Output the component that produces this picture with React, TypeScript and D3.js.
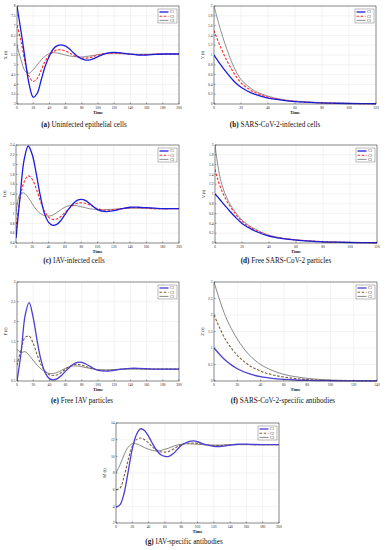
import React from "react";
import * as d3 from "d3";

// time grids
const tLong = [0, 5, 10, 15, 20, 25, 30, 35, 40, 45, 50, 55, 60, 65, 70, 75, 80, 85, 90, 95, 100, 110, 120, 130, 140, 150, 160, 170, 180, 190, 200];
const tB = [0, 5, 10, 15, 20, 25, 30, 40, 50, 60, 70, 80, 90, 100, 110, 120];
const tD = [0, 2, 5, 10, 15, 20, 25, 30, 40, 50, 60, 70, 80, 90, 100, 110, 120];
const tF = [0, 10, 20, 30, 40, 50, 60, 70, 80, 90, 100, 110, 120, 130, 140];

const seriesNames = ["C1", "C2", "C3"];

// (a) X(t)
const aC1 = [8, 6.7, 5.3, 4.0, 3.35, 3.55, 4.25, 4.95, 5.45, 5.82, 5.98, 6.02, 5.95, 5.8, 5.6, 5.42, 5.3, 5.24, 5.25, 5.32, 5.42, 5.58, 5.63, 5.6, 5.54, 5.5, 5.5, 5.53, 5.55, 5.55, 5.55];
const aC2 = [7, 6.2, 5.1, 4.4, 4.15, 4.3, 4.75, 5.2, 5.5, 5.68, 5.76, 5.76, 5.7, 5.6, 5.48, 5.4, 5.35, 5.34, 5.37, 5.43, 5.5, 5.58, 5.6, 5.58, 5.54, 5.52, 5.52, 5.54, 5.55, 5.55, 5.55];
const aC3 = [6.0, 5.25, 4.68, 4.57, 4.75, 5.0, 5.25, 5.45, 5.58, 5.62, 5.6, 5.55, 5.5, 5.45, 5.42, 5.4, 5.4, 5.42, 5.45, 5.48, 5.52, 5.56, 5.57, 5.56, 5.55, 5.54, 5.54, 5.55, 5.55, 5.55, 5.55];

// (b) Y(t)
const bC1 = [1, 0.8, 0.62, 0.46, 0.34, 0.26, 0.2, 0.12, 0.08, 0.05, 0.035, 0.022, 0.015, 0.01, 0.007, 0.005];
const bC2 = [1.5, 1.15, 0.86, 0.62, 0.43, 0.32, 0.24, 0.14, 0.085, 0.055, 0.037, 0.024, 0.016, 0.011, 0.007, 0.005];
const bC3 = [2.0, 1.5, 1.08, 0.74, 0.5, 0.37, 0.27, 0.16, 0.095, 0.06, 0.04, 0.026, 0.017, 0.011, 0.007, 0.005];

// (c) I(t)
const cC1 = [0.5, 1.35, 2.1, 2.38, 2.2, 1.8, 1.35, 1.0, 0.82, 0.76, 0.78, 0.86, 0.98, 1.1, 1.2, 1.27, 1.29, 1.27, 1.21, 1.14, 1.08, 1.04, 1.06, 1.1, 1.13, 1.13, 1.12, 1.11, 1.1, 1.1, 1.1];
const cC2 = [0.7, 1.3, 1.65, 1.77, 1.7, 1.5, 1.25, 1.05, 0.93, 0.88, 0.89, 0.94, 1.02, 1.1, 1.17, 1.21, 1.22, 1.21, 1.18, 1.14, 1.1, 1.07, 1.08, 1.1, 1.12, 1.12, 1.11, 1.1, 1.1, 1.1, 1.1];
const cC3 = [1.0, 1.4, 1.42, 1.33, 1.2, 1.08, 1.0, 0.96, 0.95, 0.97, 1.02, 1.08, 1.13, 1.16, 1.17, 1.16, 1.14, 1.12, 1.1, 1.09, 1.08, 1.08, 1.09, 1.1, 1.11, 1.11, 1.11, 1.1, 1.1, 1.1, 1.1];

// (d) V(t)
const dC1 = [1, 0.94, 0.84, 0.68, 0.53, 0.4, 0.31, 0.24, 0.14, 0.09, 0.06, 0.04, 0.025, 0.016, 0.01, 0.007, 0.005];
const dC2 = [1.5, 1.3, 1.07, 0.8, 0.6, 0.44, 0.34, 0.26, 0.15, 0.095, 0.062, 0.042, 0.027, 0.017, 0.011, 0.007, 0.005];
const dC3 = [2, 1.6, 1.2, 0.85, 0.63, 0.47, 0.36, 0.28, 0.16, 0.1, 0.065, 0.043, 0.028, 0.018, 0.011, 0.007, 0.005];

// (e) P(t)
const eC1 = [0.5, 1.2, 2.15, 2.48, 2.1, 1.5, 1.0, 0.7, 0.56, 0.53, 0.56, 0.64, 0.75, 0.85, 0.93, 0.97, 0.97, 0.93, 0.87, 0.81, 0.77, 0.75, 0.77, 0.8, 0.82, 0.82, 0.81, 0.8, 0.8, 0.8, 0.8];
const eC2 = [0.9, 1.3, 1.6, 1.63, 1.45, 1.15, 0.9, 0.74, 0.66, 0.64, 0.66, 0.72, 0.8, 0.87, 0.91, 0.92, 0.9, 0.87, 0.83, 0.8, 0.78, 0.77, 0.78, 0.8, 0.81, 0.81, 0.8, 0.8, 0.8, 0.8, 0.8];
const eC3 = [1.3, 1.22, 1.24, 1.15, 1.02, 0.9, 0.8, 0.73, 0.69, 0.69, 0.72, 0.77, 0.82, 0.86, 0.88, 0.88, 0.86, 0.84, 0.82, 0.8, 0.79, 0.78, 0.79, 0.8, 0.8, 0.8, 0.8, 0.8, 0.8, 0.8, 0.8];

// (f) Z(t)
const fC1 = [1, 0.62, 0.37, 0.22, 0.13, 0.08, 0.05, 0.03, 0.02, 0.012, 0.008, 0.005, 0.003, 0.002, 0.001];
const fC2 = [2, 1.25, 0.78, 0.48, 0.3, 0.19, 0.12, 0.075, 0.045, 0.028, 0.018, 0.011, 0.007, 0.004, 0.003];
const fC3 = [3, 1.95, 1.27, 0.8, 0.5, 0.32, 0.2, 0.13, 0.08, 0.05, 0.03, 0.02, 0.012, 0.008, 0.005];

// (g) M(t)
const gC1 = [3.9, 4.2, 5.6, 8.2, 10.9, 12.6, 13.3, 13.1, 12.4, 11.5, 10.7, 10.2, 10.0, 10.0, 10.3, 10.8, 11.3, 11.6, 11.8, 11.85, 11.75, 11.4, 11.2, 11.2, 11.35, 11.45, 11.45, 11.42, 11.4, 11.4, 11.4];
const gC2 = [6.0, 6.2, 7.6, 9.6, 11.2, 12.0, 12.2, 12.0, 11.6, 11.1, 10.75, 10.55, 10.5, 10.6, 10.85, 11.15, 11.4, 11.55, 11.6, 11.6, 11.55, 11.4, 11.3, 11.3, 11.38, 11.42, 11.42, 11.4, 11.4, 11.4, 11.4];
const gC3 = [8.0, 9.0, 10.2, 11.1, 11.5, 11.5, 11.3, 11.05, 10.85, 10.7, 10.65, 10.7, 10.85, 11.0, 11.2, 11.35, 11.45, 11.5, 11.5, 11.48, 11.45, 11.38, 11.35, 11.36, 11.4, 11.4, 11.4, 11.4, 11.4, 11.4, 11.4];

const colorsTop = ["#1c1ce0", "#ff2a2a", "#5e5e5e"];
const colorsBottom = ["#4b3ed2", "#80603c", "#555555"];

const panels = [
  { id: "a", title: "Uninfected epithelial cells", ylab: "X (t)", t: tLong, ys: [aC1, aC2, aC3], xd: [0, 200], xs: 20, yd: [3, 8], ystep: 0.5, box: [17, 179, 6, 104], cap: [84, 127], colors: colorsTop },
  { id: "b", title: "SARS-CoV-2-infected cells", ylab: "Y (t)", t: tB, ys: [bC1, bC2, bC3], xd: [0, 120], xs: 20, yd: [0, 2], ystep: 0.2, box: [214, 376, 6, 104], cap: [275, 127], colors: colorsTop },
  { id: "c", title: "IAV-infected cells", ylab: "I (t)", t: tLong, ys: [cC1, cC2, cC3], xd: [0, 200], xs: 20, yd: [0.4, 2.4], ystep: 0.2, box: [16, 179, 145, 243], cap: [74, 263], colors: colorsTop },
  { id: "d", title: "Free SARS-CoV-2 particles", ylab: "V (t)", t: tD, ys: [dC1, dC2, dC3], xd: [0, 120], xs: 20, yd: [0, 2], ystep: 0.2, box: [215, 377, 145, 243], cap: [286, 263], colors: colorsTop },
  { id: "e", title: "Free IAV particles", ylab: "P (t)", t: tLong, ys: [eC1, eC2, eC3], xd: [0, 200], xs: 20, yd: [0.5, 3], ystep: 0.5, box: [17, 179, 282, 381], cap: [82, 403], colors: colorsBottom },
  { id: "f", title: "SARS-CoV-2-specific antibodies", ylab: "Z (t)", t: tF, ys: [fC1, fC2, fC3], xd: [0, 140], xs: 20, yd: [0, 3], ystep: 0.5, box: [214, 377, 282, 381], cap: [283, 403], colors: colorsBottom },
  { id: "g", title: "IAV-specific antibodies", ylab: "M (t)", t: tLong, ys: [gC1, gC2, gC3], xd: [0, 200], xs: 20, yd: [2, 14], ystep: 2, box: [116, 279, 423, 523], cap: [184, 544], colors: colorsBottom },
];

const fmt = (v) => String(+v.toFixed(2));

function Panel({ p }) {
  const [l, r, top, bot] = p.box;
  const x = d3.scaleLinear().domain(p.xd).range([l, r]);
  const y = d3.scaleLinear().domain(p.yd).range([bot, top]);
  const xt = d3.range(p.xd[0], p.xd[1] + 1e-6, p.xs);
  const yt = d3.range(0, Math.round((p.yd[1] - p.yd[0]) / p.ystep) + 1).map((i) => p.yd[0] + i * p.ystep);
  const line = d3.line().x((d) => x(d[0])).y((d) => y(d[1])).curve(d3.curveCatmullRom.alpha(0.5));
  const widths = [1.3, 1.1, 0.7];
  const dashes = [null, "2.6,1.6", null];
  const lg = { x: r - 21, y: top + 3, w: 19, h: 14 };

  return (
    <g>
      <rect x={l} y={top} width={r - l} height={bot - top} fill="#fff" />
      {xt.map((v) => (
        <line key={"gx" + v} x1={x(v)} x2={x(v)} y1={top} y2={bot} stroke="#e6e6e6" strokeWidth={0.5} />
      ))}
      {yt.map((v) => (
        <line key={"gy" + v} x1={l} x2={r} y1={y(v)} y2={y(v)} stroke="#e6e6e6" strokeWidth={0.5} />
      ))}
      <clipPath id={"clip" + p.id}>
        <rect x={l} y={top - 1} width={r - l} height={bot - top + 2} />
      </clipPath>
      <g clipPath={`url(#clip${p.id})`}>
        {p.ys.map((vals, i) => (
          <path
            key={i}
            d={line(p.t.map((t, k) => [t, vals[k]]))}
            fill="none"
            stroke={p.colors[i]}
            strokeWidth={widths[i]}
            strokeDasharray={dashes[i] || undefined}
          />
        )).reverse()}
      </g>
      <rect x={l} y={top} width={r - l} height={bot - top} fill="none" stroke="#222" strokeWidth={0.5} />
      {xt.map((v) => (
        <g key={"xt" + v}>
          <line x1={x(v)} x2={x(v)} y1={bot} y2={bot - 1.5} stroke="#222" strokeWidth={0.4} />
          <text x={x(v)} y={bot + 4.5} fontSize={3.6} textAnchor="middle" fill="#222">{fmt(v)}</text>
        </g>
      ))}
      {yt.map((v) => (
        <g key={"yt" + v}>
          <line x1={l} x2={l + 1.5} y1={y(v)} y2={y(v)} stroke="#222" strokeWidth={0.4} />
          <text x={l - 1.5} y={y(v) + 1.2} fontSize={3.6} textAnchor="end" fill="#222">{fmt(v)}</text>
        </g>
      ))}
      <text x={(l + r) / 2} y={bot + 9.5} fontSize={4.6} fontWeight="bold" textAnchor="middle" fill="#222">Time</text>
      <text transform={`translate(${l - 10},${(top + bot) / 2}) rotate(-90)`} fontSize={4.6} textAnchor="middle" fill="#222">{p.ylab}</text>
      <rect x={lg.x} y={lg.y} width={lg.w} height={lg.h} fill="#fff" stroke="#555" strokeWidth={0.4} />
      {seriesNames.map((n, i) => (
        <g key={n}>
          <line x1={lg.x + 1.5} x2={lg.x + 10.5} y1={lg.y + 3 + i * 4.2} y2={lg.y + 3 + i * 4.2} stroke={p.colors[i]} strokeWidth={widths[i]} strokeDasharray={dashes[i] || undefined} />
          <text x={lg.x + 12} y={lg.y + 4.3 + i * 4.2} fontSize={3.4} fill="#222">{n}</text>
        </g>
      ))}
      <text x={p.cap[0]} y={p.cap[1]} fontSize={7.2} textAnchor="middle" fill="#111" fontFamily="'Liberation Serif', serif">
        <tspan fontWeight="bold">({p.id})</tspan> {p.title}
      </text>
    </g>
  );
}

export default function App() {
  return (
    <svg
      width={385}
      height={550}
      viewBox="0 0 385 550"
      style={{ position: "absolute", left: 0, top: 0, background: "#fff", fontFamily: "'Liberation Serif', 'DejaVu Serif', serif" }}
    >
      <rect width={385} height={550} fill="#fff" />
      {panels.map((p) => (
        <Panel key={p.id} p={p} />
      ))}
    </svg>
  );
}
